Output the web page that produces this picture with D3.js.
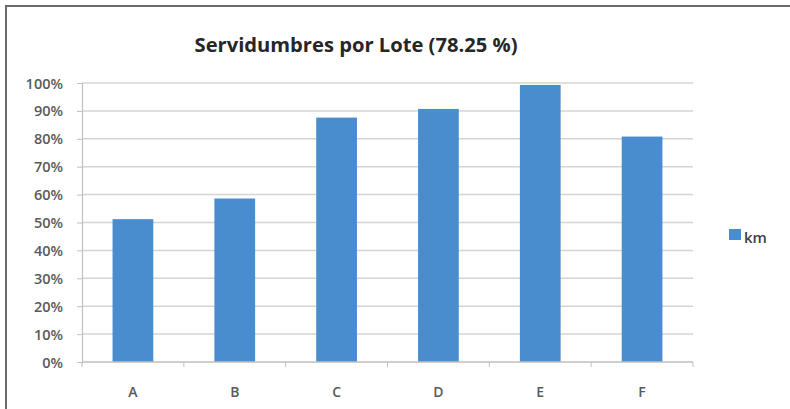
<!DOCTYPE html>
<html><head><meta charset="utf-8">
<script src="https://cdn.jsdelivr.net/npm/d3@7"></script>
<style>body{margin:0;background:#fff;}svg{display:block;}</style>
</head><body>
<svg id="c" width="790" height="409"></svg>
<script>
const categories = ["A","B","C","D","E","F"];
const values = [0.512, 0.586, 0.876, 0.907, 0.993, 0.808];
const yTicks = [0,0.1,0.2,0.3,0.4,0.5,0.6,0.7,0.8,0.9,1.0];
const seriesName = "km";
const title = "Servidumbres por Lote (78.25 %)";

const svg = d3.select("#c");
const W=790,H=409;
svg.append("rect").attr("width",W).attr("height",H).attr("fill","#fff");
svg.append("line").attr("x1",5).attr("x2",W).attr("y1",6).attr("y2",6).attr("stroke","#6b6b6b").attr("stroke-width",2);
svg.append("line").attr("x1",6).attr("x2",6).attr("y1",5).attr("y2",H).attr("stroke","#6b6b6b").attr("stroke-width",2);

const m={l:82,r:693,t:83,b:362};
const x=d3.scaleBand().domain(categories).range([m.l,m.r]).paddingInner(0.6).paddingOuter(0.3);
const y=d3.scaleLinear().domain([0,1]).range([m.b,m.t]);

svg.append("g").selectAll("line").data(yTicks.filter(d=>d>0)).join("line")
 .attr("x1",m.l).attr("x2",m.r).attr("y1",d=>y(d)).attr("y2",d=>y(d))
 .attr("stroke","#d4d4d4").attr("stroke-width",1.5);

const ya=svg.append("g").attr("transform",`translate(${m.l},0)`)
 .call(d3.axisLeft(y).tickValues(yTicks).tickFormat(d3.format(".0%")).tickSize(5).tickPadding(14));
ya.select(".domain").attr("stroke","#bfbfbf").attr("stroke-width",1.2);
ya.selectAll(".tick line").attr("stroke","#bfbfbf");
ya.selectAll("text").attr("font-family","'Open Sans',sans-serif").attr("font-size",14.5).attr("font-weight",600).attr("fill","#5a5a5a").attr("dy","0.35em");

svg.append("g").selectAll("rect").data(values).join("rect")
 .attr("x",(d,i)=>x(categories[i])).attr("width",x.bandwidth())
 .attr("y",d=>y(d)).attr("height",d=>y(0)-y(d)).attr("fill","#4a8dce");

const xb=d3.scaleLinear().domain([0,categories.length]).range([m.l,m.r]);
const xa=svg.append("g").attr("transform",`translate(0,${m.b})`);
xa.append("line").attr("x1",m.l).attr("x2",m.r).attr("stroke","#bfbfbf").attr("stroke-width",1.5);
xa.selectAll("line.t").data(d3.range(categories.length+1)).join("line").attr("class","t")
 .attr("x1",d=>xb(d)).attr("x2",d=>xb(d)).attr("y1",0).attr("y2",5).attr("stroke","#bfbfbf");
xa.selectAll("text").data(categories).join("text")
 .attr("x",d=>x(d)+x.bandwidth()/2).attr("y",35).attr("text-anchor","middle")
 .attr("font-family","'Open Sans',sans-serif").attr("font-size",14).attr("font-weight",600).attr("fill","#5a5a5a").text(d=>d);

const t=svg.append("text").attr("x",356).attr("y",52).attr("text-anchor","middle")
 .attr("font-family","'Open Sans',sans-serif").attr("font-weight",700).attr("font-size",18).attr("fill","#262626").text(title);
const tw=t.node().getComputedTextLength();
t.attr("font-size",18*323/tw);

svg.append("rect").attr("x",729).attr("y",229).attr("width",12).attr("height",11).attr("fill","#4a8dce");
svg.append("text").attr("x",744).attr("y",243).attr("font-family","'Open Sans',sans-serif").attr("font-size",15).attr("font-weight",600).attr("fill","#404040").text(seriesName);
</script>
</body></html>
